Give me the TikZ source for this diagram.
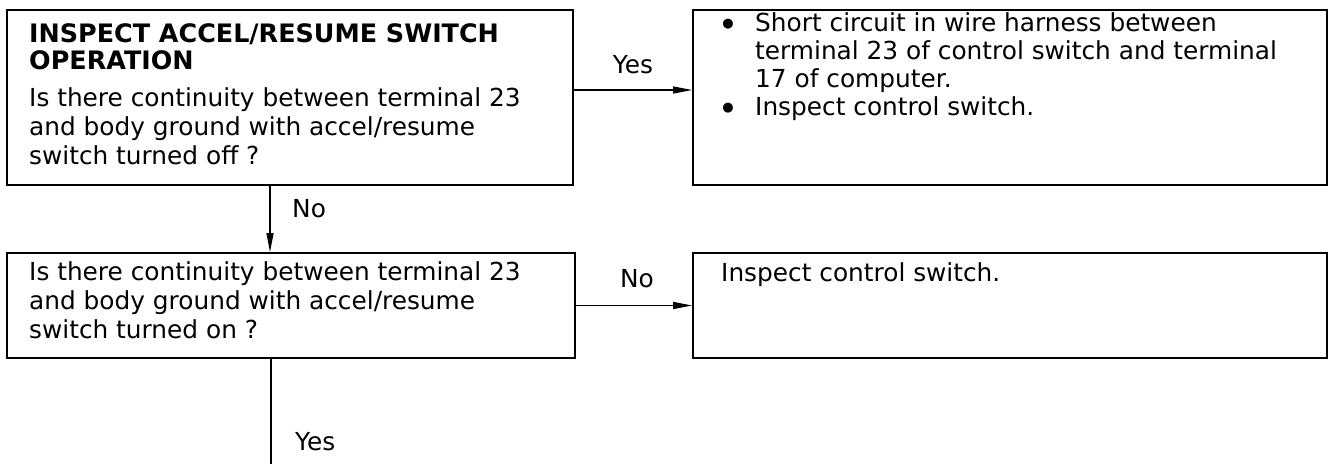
\documentclass[tikz,border=0pt]{standalone}
\usepackage{fontspec}
\setmainfont{DejaVu Sans}
\usetikzlibrary{arrows.meta}
\begin{document}
\begin{tikzpicture}[x=1pt,y=-1pt,
  box/.style={draw, line width=1.8pt, inner sep=0pt},
  txt/.style={anchor=base west, inner sep=0pt, font=\fontsize{24.8}{29}\selectfont},
  head/.style={anchor=base west, inner sep=0pt, font=\fontsize{25.4}{29}\selectfont\bfseries},
  bul/.style={anchor=base, inner sep=0pt, font=\fontsize{13}{15}\selectfont},
  lbl/.style={inner sep=0pt, font=\fontsize{24.8}{29}\selectfont},
  conn/.style={line width=1.2pt},
  arr/.style={conn, -{Triangle[length=19pt,width=7pt]}}]
\useasboundingbox (0,0) rectangle (1334,464);
% boxes
\node[box, minimum width=566pt, minimum height=175pt] (b1) at (290,97.5) {};
\node[box, minimum width=634pt, minimum height=175pt] (b2) at (1010,97.5) {};
\node[box, minimum width=568pt, minimum height=105pt] (b3) at (291,305.5) {};
\node[box, minimum width=634pt, minimum height=105pt] (b4) at (1010,305.5) {};
% box 1 text
\node[head] (h1) at (29,42) {INSPECT ACCEL/RESUME SWITCH};
\node[head] (h2) at (29,69) {OPERATION};
\node[txt] (q1a) at (29,106) {Is there continuity between terminal 23};
\node[txt] (q1b) at (29,135) {and body ground with accel/resume};
\node[txt] (q1c) at (29,164) {switch turned off ?};
% box 2 text
\node[bul] (d1) at (728,27) {●};
\node[txt] (r1a) at (755,31) {Short circuit in wire harness between};
\node[txt] (r1b) at (755,59) {terminal 23 of control switch and terminal};
\node[txt] (r1c) at (755,87) {17 of computer.};
\node[bul] (d2) at (728,111) {●};
\node[txt] (r1d) at (755,115) {Inspect control switch.};
% box 3 text
\node[txt] (q2a) at (29,280) {Is there continuity between terminal 23};
\node[txt] (q2b) at (29,309) {and body ground with accel/resume};
\node[txt] (q2c) at (29,338) {switch turned on ?};
% box 4 text
\node[txt] (r2a) at (721,281) {Inspect control switch.};
% connectors
\draw[arr] ([yshift=7.5pt]b1.east) -- ([yshift=7.5pt]b1.east -| b2.west);
\draw[arr] (b3.east) -- (b3.east -| b4.west);
\draw[arr] ([xshift=-20pt]b1.south) -- ([xshift=-20pt]b1.south |- b3.north);
\coordinate (endb) at (271,464);
\draw[conn] ([xshift=-20pt]b3.south) -- (endb);
% labels
\node[lbl, anchor=base] (ly1) at (633,73) {Yes};
\node[lbl, anchor=base] (ln1) at (637,287) {No};
\node[lbl, anchor=base west] (ln2) at (292,217) {No};
\node[lbl, anchor=base west] (ly2) at (295,450) {Yes};
\end{tikzpicture}
\end{document}
